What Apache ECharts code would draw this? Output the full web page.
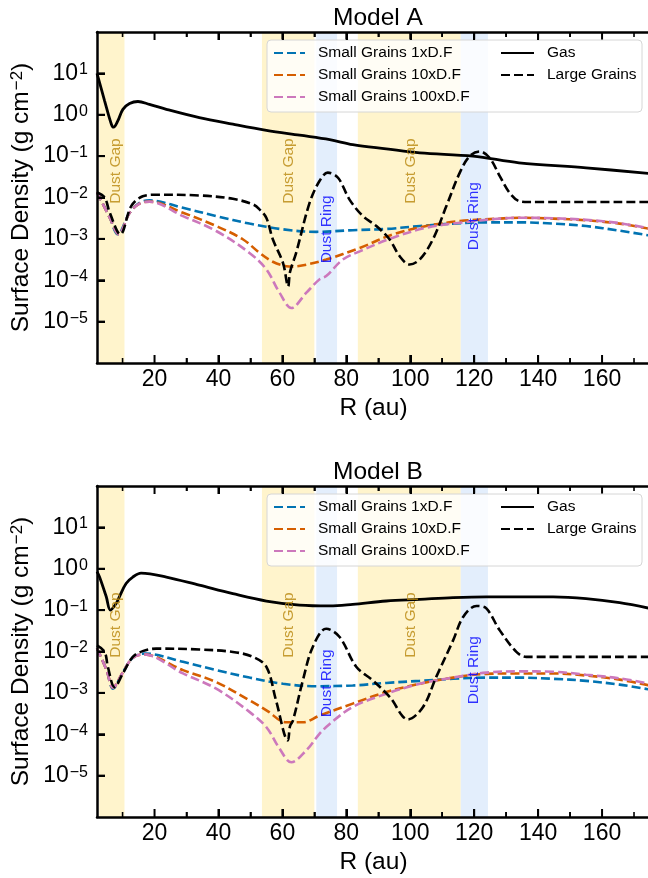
<!DOCTYPE html>
<html><head><meta charset="utf-8">
<script src="https://cdn.jsdelivr.net/npm/echarts@6/dist/echarts.min.js"></script>
<style>html,body{margin:0;padding:0;background:#fff}#c{width:648px;height:878px}</style>
</head><body><div id="c"></div>
<script>
// ---- ticks / annotations ----
const xMajorTicks = [20, 40, 60, 80, 100, 120, 140, 160];
const xMinorTicks = [10, 30, 50, 70, 90, 110, 130, 150, 170];
const yTickExponents = [-5, -4, -3, -2, -1, 0, 1];
const yTickValues = [1e-5, 1e-4, 1e-3, 1e-2, 1e-1, 1, 10];
const gapRanges = [[2.7, 10.6], [53.6, 70.0], [83.6, 115.8]];
const ringRanges = [[70.6, 77.1], [115.8, 124.3]];
const gapLabelX = [7.8, 62.0, 100.0];
const gapLabelY = [0.0437, 0.0437, 0.0437];
const ringLabelX = [74.0, 119.8];
const ringLabelY = [0.0017, 0.00355];
const titles = ['Model A', 'Model B'];
const seriesNames = ['Small Grains 1xD.F', 'Small Grains 10xD.F', 'Small Grains 100xD.F', 'Gas', 'Large Grains'];

// ---- Model A ----
const gasA_R = [2, 4.4, 6.5, 7.2, 8.5, 10.1, 12.2, 14.8, 18.4, 23.7, 34, 44.5, 55, 65.4, 74.8, 82, 92.5, 103, 119.6, 134, 155, 175];
const gasA = [10, 2.14, 0.59, 0.50, 0.71, 1.35, 1.86, 2.09, 1.78, 1.35, 0.85, 0.59, 0.42, 0.32, 0.25, 0.19, 0.15, 0.12, 0.10, 0.069, 0.052, 0.038];
const largeA_R = [2, 4.4, 6, 9.3, 12.7, 16.3, 20.5, 34, 44.5, 50.8, 52.9, 55, 57, 60.2, 61.8, 62.4, 64.3, 68.5, 71.6, 74.2, 77.4, 81, 85.2, 89.4, 93.5, 96.7, 99.8, 103, 107.1, 111.3, 115.5, 118.6, 121.7, 124.8, 128, 131.1, 134.2, 137, 175];
const largeA = [0.0132, 0.0100, 0.00427, 0.00129, 0.00617, 0.0107, 0.0117, 0.0112, 0.0093, 0.0068, 0.0051, 0.0032, 0.00098, 0.00026, 0.000071, 0.00016, 0.00046, 0.0074, 0.025, 0.040, 0.030, 0.0089, 0.00355, 0.00204, 0.00098, 0.00038, 0.00024, 0.00032, 0.00098, 0.0062, 0.040, 0.10, 0.13, 0.091, 0.033, 0.0129, 0.0081, 0.0078, 0.0078];
const blueA_R = [2, 6, 8.5, 12.2, 15.3, 18.4, 28.9, 39.3, 49.7, 60.2, 70.6, 82, 92.5, 103, 113.4, 123.8, 134, 144.7, 155, 165.5, 175];
const blueA = [0.0135, 0.00324, 0.00129, 0.00427, 0.00741, 0.0085, 0.00562, 0.00355, 0.00234, 0.0017, 0.00148, 0.00162, 0.00174, 0.00204, 0.00234, 0.00251, 0.00251, 0.00234, 0.00204, 0.00158, 0.0012];
const orangeA_R = [2, 6, 8.8, 12.2, 15.3, 18.4, 28.9, 39.3, 47.6, 52.9, 57, 61.2, 63.3, 67, 73.7, 84.2, 94.6, 105, 115.5, 128, 134, 144.7, 155, 165.5, 175];
const orangeA = [0.0135, 0.00324, 0.00129, 0.00427, 0.00708, 0.00794, 0.00427, 0.00204, 0.00098, 0.000457, 0.00028, 0.000219, 0.000214, 0.000234, 0.000316, 0.000603, 0.00129, 0.00204, 0.00269, 0.00309, 0.00324, 0.00309, 0.00282, 0.00234, 0.00174];
const pinkA_R = [2, 6, 8.8, 12.2, 15.3, 18.4, 28.9, 39.3, 49.7, 55, 59.1, 62.8, 67.5, 71.6, 73.7, 78.9, 84.2, 94.6, 105, 115.5, 128, 134, 144.7, 155, 165.5, 175];
const pinkA = [0.0135, 0.00324, 0.00129, 0.00427, 0.00708, 0.00794, 0.00355, 0.00155, 0.000457, 0.000182, 0.00005, 0.0000214, 0.00005, 0.000105, 0.000126, 0.000316, 0.0005, 0.00107, 0.00186, 0.00245, 0.00309, 0.00324, 0.00316, 0.00288, 0.0024, 0.00178];

// ---- Model B ----
const gasB_R = [2, 2.8, 4.9, 6.2, 8, 9, 11.1, 13.2, 15.8, 23.7, 34, 44.5, 55, 65.4, 74.8, 82, 92.5, 103, 113.4, 123.8, 134, 144.7, 155, 165.5, 175];
const gasB = [0.85, 0.63, 0.21, 0.10, 0.145, 0.21, 0.44, 0.63, 0.78, 0.63, 0.40, 0.25, 0.166, 0.132, 0.126, 0.138, 0.166, 0.182, 0.20, 0.209, 0.209, 0.209, 0.19, 0.151, 0.11];
const largeB_R = [2, 4.4, 5.4, 7.5, 10.1, 13.2, 16.3, 20.5, 34, 44.5, 50.8, 55, 58, 61.7, 62.4, 63.3, 66.4, 69.5, 73.7, 77.9, 83.1, 88.3, 93.6, 99.3, 104, 108.1, 113.4, 116.6, 120.7, 123.8, 128, 133.2, 136.3, 175];
const largeB = [0.0141, 0.0098, 0.00427, 0.00138, 0.00295, 0.00741, 0.0102, 0.01175, 0.0112, 0.00977, 0.00741, 0.00427, 0.000661, 0.000071, 0.00016, 0.000214, 0.0020, 0.0129, 0.0355, 0.0224, 0.00427, 0.0020, 0.000794, 0.000229, 0.000457, 0.0024, 0.0186, 0.0692, 0.126, 0.11, 0.0324, 0.00977, 0.00741, 0.00741];
const blueB_R = [2, 5, 7, 10.1, 13.2, 17, 28.9, 39.3, 49.7, 60.2, 70.6, 82, 92.5, 103, 113.4, 123.8, 134, 144.7, 155, 165.5, 175];
const blueB = [0.012, 0.00355, 0.00126, 0.00316, 0.00708, 0.00891, 0.00562, 0.00355, 0.00234, 0.00166, 0.00145, 0.00151, 0.00174, 0.00195, 0.00219, 0.00234, 0.00234, 0.00219, 0.00195, 0.00158, 0.0012];
const orangeB_R = [2, 5, 7, 10.1, 13.2, 16.5, 28.9, 39.3, 49.7, 55, 61.2, 66.4, 71.6, 82, 92.5, 103, 113.4, 123.8, 134, 144.7, 155, 165.5, 175];
const orangeB = [0.012, 0.00355, 0.00135, 0.00316, 0.00708, 0.00851, 0.00355, 0.00182, 0.000661, 0.00038, 0.000195, 0.000195, 0.000282, 0.00055, 0.00105, 0.00166, 0.00234, 0.00288, 0.00295, 0.00295, 0.00263, 0.00209, 0.00151];
const pinkB_R = [2, 5, 7, 10.1, 13.2, 16.5, 28.9, 39.3, 49.7, 55, 59.1, 62.8, 67.5, 71.6, 74.8, 82, 92.5, 103, 113.4, 123.8, 134, 144.7, 155, 165.5, 175];
const pinkB = [0.012, 0.00355, 0.00135, 0.00316, 0.00708, 0.00851, 0.00295, 0.00126, 0.000347, 0.000148, 0.000045, 0.000021, 0.000041, 0.000102, 0.000178, 0.000457, 0.00095, 0.00166, 0.00234, 0.00309, 0.00331, 0.00324, 0.00275, 0.00224, 0.00166];

// ---- styling ----
const FONT = "'Liberation Sans', Arial, sans-serif";
const colors = ['#0173b2', '#d55e00', '#cc78bc', '#000000', '#000000'];
const DASH = [9, 4];
const LW = 2.6;
const gridTops = [32, 486];
const GRID_LEFT = 97, GRID_W = 553, GRID_H = 331;
const X_MIN = 2, X_MAX = 175, Y_MIN = 1e-6, Y_MAX = 1e2;
const DEC_PER_PX = 8 / GRID_H;
const AU_PER_PX = (X_MAX - X_MIN) / GRID_W;
const gapColor = '#fff4cc', ringColor = '#e3eefc';

function pairs(xs, ys) { return xs.map((x, i) => [x, ys[i]]); }

const plots = [
  { gas: [gasA_R, gasA], large: [largeA_R, largeA], small: [[blueA_R, blueA], [orangeA_R, orangeA], [pinkA_R, pinkA]] },
  { gas: [gasB_R, gasB], large: [largeB_R, largeB], small: [[blueB_R, blueB], [orangeB_R, orangeB], [pinkB_R, pinkB]] }
];

const grid = [], xAxis = [], yAxis = [], series = [], legend = [], graphic = [], title = [];

plots.forEach((p, g) => {
  const top = gridTops[g];
  grid.push({ left: GRID_LEFT, top: top, width: GRID_W, height: GRID_H, containLabel: false, outerBoundsMode: 'none' });
  const baseX = { gridIndex: g, type: 'value', min: X_MIN, max: X_MAX, z: 10 };
  // bottom axis: labels + major tick stubs (split lines dashed so only both ends show)
  xAxis.push(Object.assign({}, baseX, {
    position: 'bottom',
    axisLine: { show: true, onZero: false, lineStyle: { color: '#000', width: 2.5 } },
    axisTick: { show: false, customValues: xMajorTicks },
    splitLine: { show: true, showMinLine: false, showMaxLine: false, lineStyle: { color: '#000', width: 2, type: [8, GRID_H - 16] } },
    axisLabel: { customValues: xMajorTicks, fontSize: 23, color: '#000', fontFamily: FONT, margin: 5 },
    name: 'R (au)', nameLocation: 'middle', nameGap: 33, nameMoveOverlap: false,
    nameTextStyle: { fontSize: 24.5, color: '#000', fontFamily: FONT, verticalAlign: 'top' }
  }));
  // top axis: spine + minor tick stubs
  xAxis.push(Object.assign({}, baseX, {
    position: 'top',
    axisLine: { show: true, onZero: false, lineStyle: { color: '#000', width: 2.5 } },
    axisTick: { show: false, customValues: xMinorTicks },
    splitLine: { show: true, showMinLine: false, showMaxLine: false, lineStyle: { color: '#000', width: 1.6, type: [5, GRID_H - 10] } },
    axisLabel: { show: false, customValues: xMinorTicks }
  }));
  yAxis.push({
    gridIndex: g, type: 'log', logBase: 10, min: Y_MIN, max: Y_MAX, splitNumber: 8, z: 10,
    splitLine: { show: true, showMinLine: false, showMaxLine: false, lineStyle: { color: '#000', width: 2, type: [8, 2000] } },
    minorTick: { show: false }, axisTick: { show: false },
    axisLine: { show: true, onZero: false, lineStyle: { color: '#000', width: 2.5 } },
    axisLabel: {
      margin: 9, color: '#000', fontFamily: FONT,
      formatter: function (v) {
        const e = Math.round(Math.log10(v));
        if (yTickExponents.indexOf(e) < 0) return '';
        return '{b|10}{s|' + (e < 0 ? '\u2212' + (-e) : String(e)) + '}';
      },
      rich: {
        b: { fontSize: 23, fontFamily: FONT, color: '#000', lineHeight: 23, verticalAlign: 'bottom', padding: [8, 0, 0, 0] },
        s: { fontSize: 16, fontFamily: FONT, color: '#000', lineHeight: 16, verticalAlign: 'top', padding: [0, 0, 15, 1] }
      }
    },
    name: '{b|Surface Density (g cm}{s|\u22122}{b|)}',
    nameLocation: 'middle', nameGap: 63, nameRotate: 90, nameMoveOverlap: false,
    nameTextStyle: {
      rich: {
        b: { fontSize: 24.5, fontFamily: FONT, color: '#000', lineHeight: 25, verticalAlign: 'bottom', padding: [7, 0, 0, 0] },
        s: { fontSize: 17, fontFamily: FONT, color: '#000', lineHeight: 17, verticalAlign: 'top', padding: [0, 0, 15, 1] }
      }
    }
  });
  const xi = g * 2;
  const markAreaData = gapRanges.map(r => [{ xAxis: r[0], itemStyle: { color: gapColor } }, { xAxis: r[1] }])
    .concat(ringRanges.map(r => [{ xAxis: r[0], itemStyle: { color: ringColor } }, { xAxis: r[1] }]));
  p.small.forEach((s, k) => {
    const ser = {
      type: 'line', name: seriesNames[k], xAxisIndex: xi, yAxisIndex: g,
      data: pairs(s[0], s[1]), showSymbol: false, symbol: 'none', smooth: 0.35, z: 3,
      lineStyle: { color: colors[k], width: LW, type: DASH }, itemStyle: { color: colors[k] }
    };
    if (k === 0) ser.markArea = { silent: true, z: 1, data: markAreaData };
    series.push(ser);
  });
  series.push({
    type: 'line', name: seriesNames[3], xAxisIndex: xi, yAxisIndex: g,
    data: pairs(p.gas[0], p.gas[1]), showSymbol: false, symbol: 'none', smooth: 0.35, z: 4,
    lineStyle: { color: '#000', width: 2.8, type: 'solid' }, itemStyle: { color: '#000' }
  });
  series.push({
    type: 'line', name: seriesNames[4], xAxisIndex: xi, yAxisIndex: g,
    data: pairs(p.large[0], p.large[1]), showSymbol: false, symbol: 'none', smooth: 0.35, z: 4,
    lineStyle: { color: '#000', width: LW, type: DASH }, itemStyle: { color: '#000' }
  });
  series.push({
    type: 'scatter', name: 'gapLabels' + g, xAxisIndex: xi, yAxisIndex: g, z: 6,
    data: pairs(gapLabelX, gapLabelY), symbolSize: 1, itemStyle: { color: 'rgba(0,0,0,0)' },
    label: { show: true, position: 'inside', rotate: 90, formatter: 'Dust Gap', color: '#b8860b', fontSize: 15.5, fontFamily: FONT }
  });
  series.push({
    type: 'scatter', name: 'ringLabels' + g, xAxisIndex: xi, yAxisIndex: g, z: 6,
    data: pairs(ringLabelX, ringLabelY), symbolSize: 1, itemStyle: { color: 'rgba(0,0,0,0)' },
    label: { show: true, position: 'inside', rotate: 90, formatter: 'Dust Ring', color: '#0000ff', fontSize: 15.5, fontFamily: FONT }
  });
  // tick stubs as small rectangles centred just inside the frame
  const fMaj = Math.pow(10, 4 * DEC_PER_PX), fMin = Math.pow(10, 2.5 * DEC_PER_PX);
  const tickBase = { type: 'scatter', xAxisIndex: xi, yAxisIndex: g, z: 7, symbol: 'rect', itemStyle: { color: '#000', opacity: 1 } };
  series.push(Object.assign({}, tickBase, { name: 'tkA' + g, data: xMajorTicks.map(v => [v, Y_MIN * fMaj]), symbolSize: [2, 8] }));
  series.push(Object.assign({}, tickBase, { name: 'tkB' + g, data: xMajorTicks.map(v => [v, Y_MAX / fMaj]), symbolSize: [2, 8] }));
  series.push(Object.assign({}, tickBase, { name: 'tkC' + g, data: xMinorTicks.map(v => [v, Y_MIN * fMin]), symbolSize: [1.6, 5] }));
  series.push(Object.assign({}, tickBase, { name: 'tkD' + g, data: xMinorTicks.map(v => [v, Y_MAX / fMin]), symbolSize: [1.6, 5] }));
  series.push(Object.assign({}, tickBase, { name: 'tkE' + g, data: yTickValues.map(v => [X_MIN + 4 * AU_PER_PX, v]), symbolSize: [8, 2] }));

  const off = top - gridTops[0];
  graphic.push({
    type: 'rect', z: 8, silent: true,
    shape: { x: 267, y: 40 + off, width: 375, height: 72, r: 4 },
    style: { fill: 'rgba(255,255,255,0.8)', stroke: '#d6d6d6', lineWidth: 1 }
  });
  const legendText = { fontSize: 15.5, fontFamily: FONT, color: '#000', lineHeight: 16, padding: [0, 0, 0, 8] };
  legend.push({
    orient: 'vertical', left: 273, top: 45 + off, padding: 0, itemGap: 6, itemWidth: 31, itemHeight: 16, z: 10,
    selectedMode: false, data: seriesNames.slice(0, 3), textStyle: legendText, itemStyle: { opacity: 0 }
  });
  legend.push({
    orient: 'vertical', left: 500, top: 45 + off, padding: 0, itemGap: 6, itemWidth: 33, itemHeight: 16, z: 10,
    selectedMode: false, data: seriesNames.slice(3, 5), textStyle: legendText, itemStyle: { opacity: 0 }
  });
  title.push({
    text: titles[g], left: 373, top: top - 31, textAlign: 'center',
    textStyle: { fontSize: 24.5, fontWeight: 'normal', fontFamily: FONT, color: '#000' }
  });
});

const chart = echarts.init(document.getElementById('c'), null, { renderer: 'canvas' });
chart.setOption({
  animation: false, backgroundColor: '#fff',
  title, grid, xAxis, yAxis, series, legend, graphic
});
</script></body></html>
